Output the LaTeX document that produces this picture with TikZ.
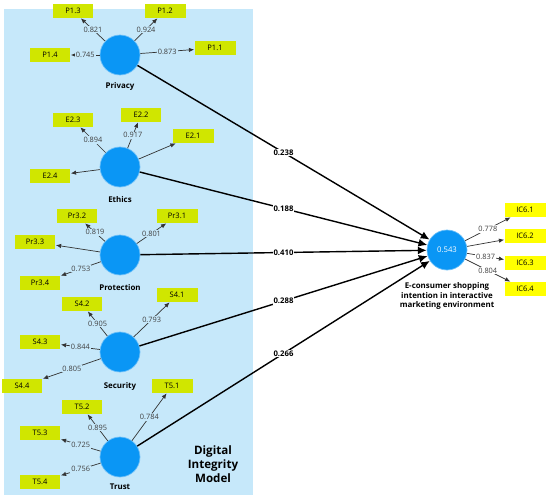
\documentclass[tikz,border=0pt]{standalone}
\usepackage{fontspec}
\setmainfont{Open Sans}
\usetikzlibrary{arrows.meta}
\definecolor{panel}{RGB}{198,232,250}
\definecolor{lv}{RGB}{10,150,245}
\definecolor{ind}{RGB}{208,230,0}
\definecolor{dep}{RGB}{255,255,0}
\tikzset{
  latent/.style={circle, fill=lv, draw=lv!60!white, minimum size=0.8cm, inner sep=0pt},
  indbox/.style={fill=ind, minimum width=0.82cm, minimum height=0.28cm, inner sep=0pt, font=\fontsize{4.3}{5}\selectfont},
  depbox/.style={indbox, fill=dep},
  load/.style={-{Latex[length=3pt,width=2.5pt]}, line width=0.4pt, black!80},
  lbl/.style={fill=panel, inner sep=0.5pt, text=black!75, font=\fontsize{4.2}{5}\selectfont},
  wlbl/.style={lbl, fill=white},
  coef/.style={-{Latex[length=5pt,width=4.5pt]}, line width=0.8pt},
  plbl/.style={fill=white, inner sep=0.6pt, font=\bfseries\fontsize{4.4}{5}\selectfont},
  cname/.style={font=\bfseries\fontsize{4.5}{5.6}\selectfont, align=center}
}
\begin{document}
\begin{tikzpicture}[x=0.02cm, y=-0.02cm]
   \useasboundingbox (0,0) rectangle (550,500);
   \fill[panel] (4,9) rectangle (253,495);

   \node[font=\bfseries\fontsize{6.6}{8}\selectfont, align=center] (dim) at (213,464) {Digital\\Integrity\\Model};

   % constructs
   \node[latent] (priv) at (120,55) {};
   \node[latent] (eth) at (120,167) {};
   \node[latent] (prot) at (120,255) {};
   \node[latent] (sec) at (120,352) {};
   \node[latent] (tru) at (120,457) {};
   \node[latent, text=white, font=\fontsize{4.4}{5}\selectfont] (ec) at (447,250) {0.543};

   \node[cname] (privl) at (120,86) {Privacy};
   \node[cname] (ethl) at (120,200) {Ethics};
   \node[cname] (protl) at (120,288) {Protection};
   \node[cname] (secl) at (120,386) {Security};
   \node[cname] (trul) at (120,487) {Trust};
   \node[cname] (ecl) at (447,296) {E-consumer shopping\\intention in interactive\\marketing environment};

   % indicators
   \foreach \n/\t/\x/\y in {p11/P1.1/215/48, p12/P1.2/165/11, p13/P1.3/73/11, p14/P1.4/50/55,
      e21/E2.1/193/136, e22/E2.2/141/115, e23/E2.3/73/120, e24/E2.4/50/176,
      r31/Pr3.1/177/216, r32/Pr3.2/77/216, r33/Pr3.3/35/242, r34/Pr3.4/40/283,
      s41/S4.1/177/295, s42/S4.2/82/304, s43/S4.3/40/342, s44/S4.4/22/386,
      t51/T5.1/172/386, t52/T5.2/82/407, t53/T5.3/40/433, t54/T5.4/40/482}
   \node[indbox] (\n) at (\x,\y) {\t};

   \foreach \n/\t/\y in {c61/IC6.1/210, c62/IC6.2/236, c63/IC6.3/263, c64/IC6.4/289}
   \node[depbox] (\n) at (525,\y) {\t};

   % loadings
   \foreach \a/\b/\l in {priv/p11/0.873, priv/p12/0.924, priv/p13/0.821, priv/p14/0.745,
      eth/e22/0.917, eth/e23/0.894, prot/r31/0.801, prot/r32/0.819, prot/r34/0.753,
      sec/s41/0.793, sec/s42/0.905, sec/s43/0.844, sec/s44/0.805,
      tru/t51/0.784, tru/t52/0.895, tru/t53/0.725, tru/t54/0.756}
   \draw[load] (\a) -- node[lbl] {\l} (\b);

   \foreach \a/\b in {eth/e21, eth/e24, prot/r33}
   \draw[load] (\a) -- (\b);

   \foreach \b/\l in {c61/0.778, c63/0.837, c64/0.804}
   \draw[load] (ec) -- node[wlbl] {\l} (\b);
   \draw[load] (ec) -- (c62);

   % path coefficients
   \foreach \a/\l in {priv/0.238, eth/0.188, prot/0.410, sec/0.288, tru/0.266}
   \draw[coef] (\a) -- node[plbl] {\l} (ec);

\end{tikzpicture}
\end{document}
